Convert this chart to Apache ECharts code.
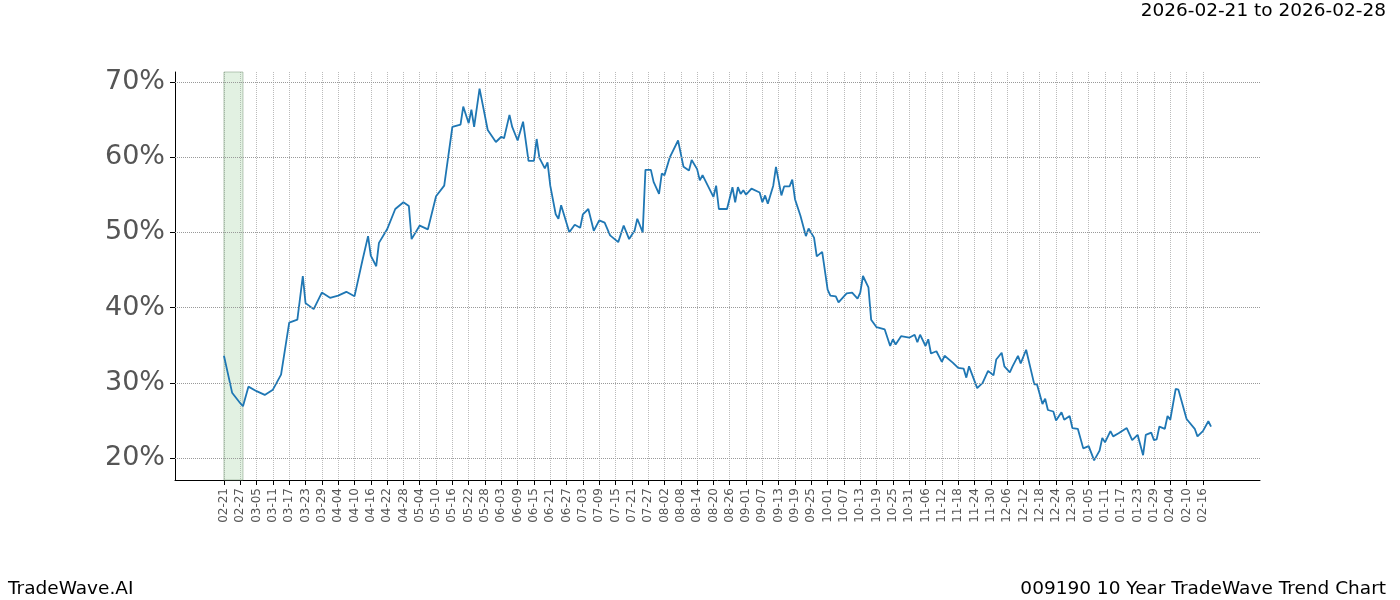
<!DOCTYPE html>
<html><head><meta charset="utf-8">
<script src="https://cdn.jsdelivr.net/npm/echarts@6/dist/echarts.min.js"></script>
<style>html,body{margin:0;padding:0;background:#fff}#c{width:1400px;height:600px}</style>
</head><body><div id="c"></div>
<script>
const startDate = '2025-02-21';
const dayOffsets = [0,3,6,7,9,12,15,18,21,24,27,29,30,33,36,39,42,45,48,51,53,54,56,57,60,63,66,68,69,72,75,78,81,84,87,88,90,91,92,94,97,100,102,103,105,106,108,110,112,114,115,116,118,119,120,122,123,124,127,129,131,132,134,136,138,140,142,145,147,149,151,152,154,155,157,158,160,161,162,164,167,169,171,172,174,175,176,180,181,182,185,187,188,189,190,191,192,194,197,198,199,200,202,203,205,206,208,209,210,212,214,215,217,218,220,222,223,225,226,228,229,231,233,234,235,237,238,240,242,243,245,246,247,249,252,254,255,256,258,259,260,262,264,265,268,270,272,273,274,277,279,281,283,284,286,287,289,290,292,293,295,298,299,301,302,303,305,306,308,309,311,312,314,316,318,320,322,323,324,326,327,329,332,334,336,338,339,341,342,343,344,346,347,348,350,351,354,357,358,360,362,363];
const values = [33.6,28.7,27.3,26.9,29.5,28.9,28.4,29.1,31.1,38,38.4,44.2,40.6,39.8,42,41.3,41.6,42.1,41.5,46.4,49.5,46.9,45.5,48.6,50.4,53.1,54,53.5,49.1,50.9,50.4,54.8,56.2,64,64.3,66.7,64.5,66.3,64,69.1,63.6,62,62.7,62.5,65.6,64,62.2,64.7,59.5,59.5,62.4,59.9,58.5,59.3,56.2,52.4,51.8,53.6,50,51,50.6,52.4,53.1,50.2,51.6,51.3,49.6,48.7,50.9,49.1,50.2,51.8,50,58.3,58.3,56.7,55.1,57.8,57.6,60,62.2,58.7,58.2,59.6,58.4,56.9,57.6,54.7,56.2,53.1,53.1,56,54,56,55.1,55.6,55,55.8,55.3,54,54.9,53.8,56.2,58.7,54.9,56.1,56.1,57,54.4,52.2,49.5,50.5,49.3,46.8,47.4,42.4,41.6,41.5,40.7,41.5,41.9,42,41.2,42,44.2,42.7,38.4,37.4,37.2,37.1,34.9,35.8,35.1,36.2,36,36.4,35.4,36.4,34.9,35.8,33.9,34.2,32.8,33.6,32.7,32,31.9,30.7,32.2,29.3,30,31.6,31,33.1,34,32.2,31.4,32.2,33.6,32.6,34.4,29.8,29.8,27.2,27.9,26.4,26.2,25,26.1,25.1,25.6,24,23.9,21.3,21.6,19.7,21,22.7,22.1,23.6,22.9,23.3,24,22.4,23.1,20.4,23.1,23.4,22.4,22.5,24.2,23.9,25.6,25.1,29.2,29.1,25.2,23.9,22.9,23.6,24.9,24.2];
const yTicks = [20,30,40,50,60,70];
const padDays = 18, spanDays = 363;

function fmt(d){const m=String(d.getUTCMonth()+1).padStart(2,'0');const dd=String(d.getUTCDate()).padStart(2,'0');return m+'-'+dd;}
const s0 = Date.parse(startDate+'T00:00:00Z');
const cats = [];
for(let i=-padDays;i<=spanDays+padDays;i++){cats.push(i<0||i>spanDays-3?'k'+i:fmt(new Date(s0+i*86400000)));}
const seriesData = cats.map(()=>null);
dayOffsets.forEach((o,k)=>{seriesData[o+padDays]=values[k];});
const labelOK = (idx)=>{const d=idx-padDays;return d>=0&&d<=360&&d%6===0;};

const chart = echarts.init(document.getElementById('c'));
chart.setOption({
  animation:false,
  grid:{left:175,right:140,top:72,bottom:120},
  graphic:[
    {type:'text',right:14,top:2,style:{text:'2026-02-21 to 2026-02-28',font:'18.5px "DejaVu Sans"',fill:'#000'}},
    {type:'text',left:8,bottom:1,style:{text:'TradeWave.AI',font:'18.5px "DejaVu Sans"',fill:'#000'}},
    {type:'text',right:14,bottom:1,style:{text:'009190 10 Year TradeWave Trend Chart',font:'18.5px "DejaVu Sans"',fill:'#000'}}
  ],
  xAxis:{type:'category',data:cats,boundaryGap:false,
    axisLine:{lineStyle:{color:'#000'}},
    axisTick:{interval:(i)=>labelOK(i),length:5,lineStyle:{color:'#000'}},
    axisLabel:{interval:(i)=>labelOK(i),rotate:90,fontSize:12,color:'#555',fontFamily:'DejaVu Sans',formatter:(v)=>v.startsWith('k')?'':v},
    splitLine:{show:true,interval:(i)=>labelOK(i),lineStyle:{type:'dotted',color:'#bbb'}}},
  yAxis:{type:'value',min:17.1,max:71.3,
    axisLine:{show:true,lineStyle:{color:'#000'}},
    axisTick:{show:true,customValues:yTicks,length:5,lineStyle:{color:'#000'}},
    axisLabel:{customValues:yTicks,formatter:'{value}%',fontSize:27,margin:10,color:'#555',fontFamily:'DejaVu Sans'},
    splitLine:{show:false}},
  series:[{type:'line',data:seriesData,connectNulls:true,showSymbol:false,
    lineStyle:{color:'#1f77b4',width:1.8},
    markLine:{silent:true,symbol:'none',label:{show:false},lineStyle:{type:'dotted',color:'#999',width:1},
      data:yTicks.map(v=>({yAxis:v}))},
    markArea:{silent:true,itemStyle:{color:'rgba(160,210,160,0.3)',borderColor:'rgba(120,150,120,0.5)',borderWidth:1},
      data:[[{xAxis:cats[padDays]},{xAxis:cats[padDays+7]}]]}
  }]
});
</script></body></html>
